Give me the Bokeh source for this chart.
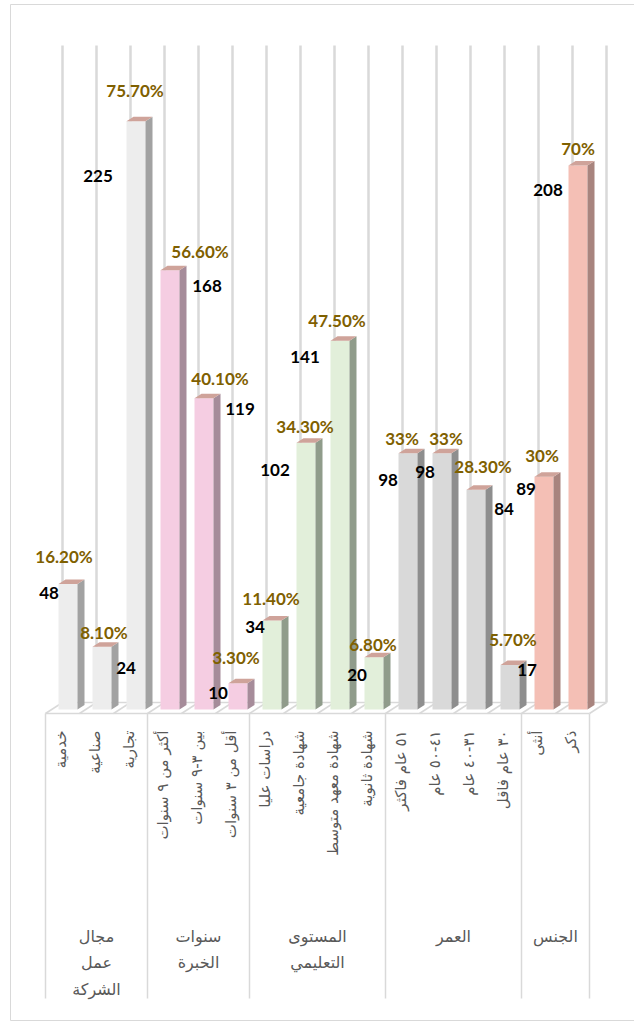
import math

from bokeh.core.properties import value
from bokeh.embed import file_html
from bokeh.models import ColumnDataSource, Range1d
from bokeh.plotting import figure
from bokeh.resources import INLINE

# ---- data -----------------------------------------------------------------
group_names = ["مجال\nعمل\nالشركة", "سنوات\nالخبرة", "المستوى\nالتعليمي", "العمر", "الجنس"]
group_sizes = [3, 3, 4, 4, 2]

categories = [
    "خدمية", "صناعية", "تجارية",
    "أكثر من ٩ سنوات", "بين ٣-٩ سنوات", "أقل من ٣ سنوات",
    "دراسات عليا", "شهادة جامعية", "شهادة معهد متوسط", "شهادة ثانوية",
    "٥١ عام فاكثر", "٤١-٥٠ عام", "٣١-٤٠ عام", "٣٠ عام فاقل",
    "أنثى", "ذكر",
]
counts = [48, 24, 225, 168, 119, 10, 34, 102, 141, 20, 98, 98, 84, 17, 89, 208]
percents = [16.2, 8.1, 75.7, 56.6, 40.1, 3.3, 11.4, 34.3, 47.5, 6.8, 33, 33, 28.3, 5.7, 30, 70]

# ---- styling --------------------------------------------------------------
# (front, side) colours per group
group_colors = [
    ("#EDEDED", "#A2A2A2"),
    ("#F5CDE2", "#A68C9A"),
    ("#E2EFDA", "#909C8B"),
    ("#D9D9D9", "#8E8E8E"),
    ("#F4BFB5", "#A8847E"),
]
TOP_COLOR = "#CFA39A"
GRID_COLOR = "#D9D9D9"
LABEL_GRAY = "#595959"
PCT_COLOR = "#7F6000"

# label placement relative to the top-centre of each bar (screen px)
count_offsets = [(-19, 9), (24, 21), (-38, 55), (37, 16), (36, 11), (-20, 10),
                 (-17, 6), (-31, 27), (-35, 16), (-17, 18), (-20, 27), (-17, 19),
                 (28, 19), (17, 5), (-18, 12), (-30, 24)]
pct_offsets = [(-4, -27), (2, -14), (-1, -31), (30, -19), (16, -20), (-2, -26),
               (-1, -22), (-1, -16), (-3, -20), (-1, -13), (-6, -15), (4, -15),
               (7, -23), (3, -26), (-2, -21), (0, -17)]

# ---- canvas geometry (screen px) -----------------------------------------
W, H = 634, 1021
X0 = 45          # left end of the category axis
CAT = 34         # width of one category
BASE = 709       # screen y of the bar bases
UNIT = 2.615     # px per count
DEPTH_X, DEPTH_Y = 17, 11   # depth of the floor
BAR_SHIFT = 5.5  # bars stand a little behind the front edge of the floor
BAR_W = 19
SIDE_X, SIDE_Y = 7, 4.5


def xd(px):
    return (px - X0) / CAT


def yd(py):
    return (BASE - py) / UNIT


p = figure(width=W, height=H, output_backend="svg", toolbar_location=None,
           x_range=Range1d(xd(0), xd(W)), y_range=Range1d(yd(H), yd(0)),
           x_axis_type=None, y_axis_type=None, min_border=0,
           outline_line_color=None, background_fill_color="white")
p.grid.grid_line_color = None

n = len(categories)

# chart-area border
p.quad(left=xd(10), right=xd(W + 5), top=yd(4), bottom=yd(1020),
       fill_color=None, line_color=GRID_COLOR, line_width=1)

# back-wall gridlines
p.segment(x0=[xd(X0 + DEPTH_X + CAT * j) for j in range(n + 1)], y0=yd(45),
          x1=[xd(X0 + DEPTH_X + CAT * j) for j in range(n + 1)], y1=yd(BASE - 7),
          line_color=GRID_COLOR, line_width=2.5)

# floor
floor_front = BASE + 4
floor_back = floor_front - DEPTH_Y
p.segment(x0=[xd(X0), xd(X0 + DEPTH_X)], y0=[yd(floor_front), yd(floor_back)],
          x1=[xd(X0 + CAT * n), xd(X0 + DEPTH_X + CAT * n)], y1=[yd(floor_front), yd(floor_back)],
          line_color=GRID_COLOR, line_width=1.5)
p.segment(x0=[xd(X0 + CAT * j) for j in range(n + 1)], y0=yd(floor_front),
          x1=[xd(X0 + DEPTH_X + CAT * j) for j in range(n + 1)], y1=yd(floor_back),
          line_color=GRID_COLOR, line_width=1.5)

# group separators under the axis
bounds = [0]
for s in group_sizes:
    bounds.append(bounds[-1] + s)
p.segment(x0=bounds, y0=yd(floor_front), x1=bounds, y1=yd(998),
          line_color=GRID_COLOR, line_width=1.5)

# ---- 3-D bars -------------------------------------------------------------
fronts, sides = [], []
for g, s in enumerate(group_sizes):
    fronts += [group_colors[g][0]] * s
    sides += [group_colors[g][1]] * s

centers = [k + 0.5 + BAR_SHIFT / CAT for k in range(n)]
half = BAR_W / CAT / 2
sx, sy = SIDE_X / CAT, SIDE_Y / UNIT

p.vbar(x=centers, top=counts, bottom=0, width=BAR_W / CAT,
       fill_color=fronts, line_color=None)

side_xs = [[c + half, c + half + sx, c + half + sx, c + half] for c in centers]
side_ys = [[0, sy, v + sy, v] for v in counts]
p.patches(side_xs, side_ys, fill_color=sides, line_color=None)

top_xs = [[c - half, c + half, c + half + sx, c - half + sx] for c in centers]
top_ys = [[v, v, v + sy, v + sy] for v in counts]
p.patches(top_xs, top_ys, fill_color=TOP_COLOR, line_color=None)

# ---- data labels ----------------------------------------------------------
def pct_text(v):
    return f"{v:g}%" if float(v).is_integer() else f"{v:.2f}%"


labels = ColumnDataSource(dict(
    x=centers, y=counts,
    count=[str(c) for c in counts],
    pct=[pct_text(v) for v in percents],
    cdx=[o[0] for o in count_offsets], cdy=[o[1] for o in count_offsets],
    pdx=[o[0] for o in pct_offsets], pdy=[o[1] for o in pct_offsets],
))
p.text(x="x", y="y", text="count", x_offset="cdx", y_offset="cdy", source=labels,
       text_align="center", text_baseline="middle", text_color="black",
       text_font=value("Lato"), text_font_style="bold", text_font_size="17px")
p.text(x="x", y="y", text="pct", x_offset="pdx", y_offset="pdy", source=labels,
       text_align="center", text_baseline="middle", text_color=PCT_COLOR,
       text_font=value("Lato"), text_font_style="bold", text_font_size="17px")

# ---- category axis --------------------------------------------------------
p.text(x=[k + 0.5 - 0.05 for k in range(n)], y=yd(730), text=categories,
       angle=math.pi / 2, text_align="right", text_baseline="middle",
       text_color=LABEL_GRAY, text_font=value("DejaVu Sans"), text_font_size="15px")

group_x = [(bounds[i] + bounds[i + 1]) / 2 for i in range(len(group_sizes))]
p.text(x=group_x, y=yd(926), text=group_names,
       text_align="center", text_baseline="top", text_line_height=1.4,
       text_color=LABEL_GRAY, text_font=value("DejaVu Sans"), text_font_size="16px")

open("out.html", "w").write(file_html(p, INLINE))
